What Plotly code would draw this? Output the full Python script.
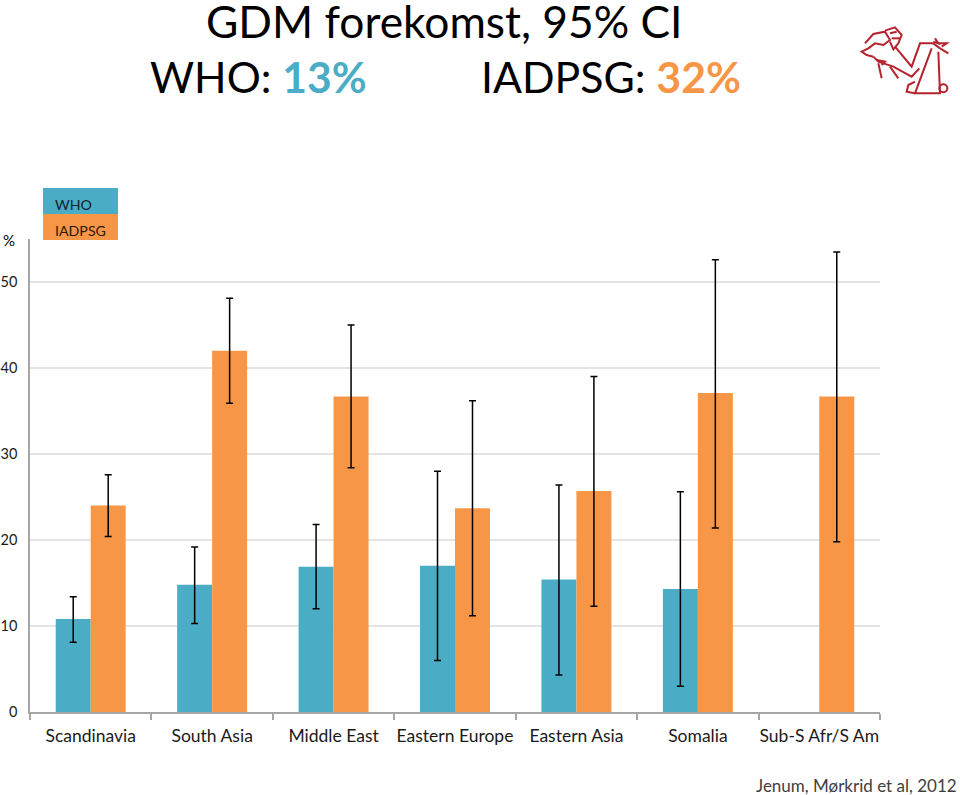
import plotly.graph_objects as go

categories = ["Scandinavia", "South Asia", "Middle East", "Eastern Europe", "Eastern Asia", "Somalia", "Sub-S Afr/S Am"]
who = [10.8, 14.8, 16.9, 17.0, 15.4, 14.3, None]
who_hi = [13.4, 19.2, 21.8, 28.0, 26.4, 25.6, None]
who_lo = [8.1, 10.3, 12.0, 6.0, 4.3, 3.0, None]
iadpsg = [24.0, 42.0, 36.7, 23.7, 25.7, 37.1, 36.7]
iadpsg_hi = [27.6, 48.1, 45.0, 36.2, 39.0, 52.6, 53.5]
iadpsg_lo = [20.4, 35.9, 28.4, 11.2, 12.3, 21.4, 19.8]
y_ticks = [0, 10, 20, 30, 40, 50]

W, H = 960, 795
L, R, T, B = 30, 880, 239, 712
BLUE, ORANGE = "#4BACC6", "#F79646"
RED = "#B5232E"
FONT = "Lato, Carlito, Calibri, sans-serif"


def arrs(vals, hi, lo):
    plus = [None if v is None else round(h - v, 2) for v, h in zip(vals, hi)]
    minus = [None if v is None else round(v - l, 2) for v, l in zip(vals, lo)]
    return dict(type="data", symmetric=False, array=plus, arrayminus=minus,
                color="#000000", thickness=1.5, width=3.5)


fig = go.Figure()
fig.add_bar(name="WHO", x=categories, y=who, marker=dict(color=BLUE, line_width=0),
            error_y=arrs(who, who_hi, who_lo))
fig.add_bar(name="IADPSG", x=categories, y=iadpsg, marker=dict(color=ORANGE, line_width=0),
            error_y=arrs(iadpsg, iadpsg_hi, iadpsg_lo))


def px(x):
    return (x - L) / (R - L)


def py(y):
    return (B - y) / (B - T)


def text(x, y, s, size, anchor="left", color="#000000", **kw):
    fig.add_annotation(xref="paper", yref="paper", x=px(x), y=py(y), text=s, showarrow=False,
                       xanchor=anchor, yanchor="middle", font=dict(family=FONT, size=size, color=color),
                       borderpad=0, **kw)


# legend swatches as filled shapes behind real text
fig.add_shape(type="rect", xref="paper", yref="paper", x0=px(43), x1=px(118), y0=py(214), y1=py(188),
              fillcolor=BLUE, line_width=0)
fig.add_shape(type="rect", xref="paper", yref="paper", x0=px(43), x1=px(118), y0=py(240), y1=py(214),
              fillcolor=ORANGE, line_width=0)

text(444, 20, "GDM forekomst, 95% CI", 44.3, "center")
text(149, 76, f"WHO: <b><span style='color:{BLUE}'>13%</span></b>", 42.6)
text(480, 76, f"IADPSG: <b><span style='color:{ORANGE}'>32%</span></b>", 42.8)
text(2, 240, "%", 15)
text(958, 785, "Jenum, Mørkrid et al, 2012", 17, "right", color="#404040")
text(54, 204, "WHO", 14.2, color="#10222a")
text(54, 230, "IADPSG", 14.2, color="#2a1a0a")

# decorative logo strokes, in the page pixels of the 3x crop (x = 840 + zx/3, y = 10 + zy/3)
LOGO = [
    [(75, 100), (100, 72), (135, 65), (150, 90), (130, 105), (105, 100), (85, 115), (65, 125), (80, 135), (100, 140)],
    [(135, 62), (165, 52), (185, 75), (175, 100), (160, 118), (150, 95)],
    [(150, 70), (170, 65)],
    [(155, 85), (180, 85)],
    [(165, 110), (215, 170), (240, 100), (280, 100), (300, 115)],
    [(100, 140), (115, 155), (160, 170), (215, 200), (238, 175)],
    [(115, 160), (125, 205)],
    [(150, 170), (175, 205)],
    [(110, 150), (135, 155), (125, 165)],
    [(275, 115), (225, 250), (300, 250), (295, 125)],
    [(225, 215), (205, 225), (200, 245), (225, 250)],
    [(280, 95), (295, 100), (285, 85)],
    [(295, 100), (320, 100), (305, 110)],
    [(300, 115), (325, 130)],
]
for stroke in LOGO:
    pts = [(px(840 + a / 3), py(10 + b / 3)) for a, b in stroke]
    d = "M" + " L".join(f"{a:.5f} {b:.5f}" for a, b in pts)
    fig.add_shape(type="path", xref="paper", yref="paper", path=d, line=dict(color=RED, width=2))
fig.add_shape(type="circle", xref="paper", yref="paper", x0=px(840 + 298 / 3), x1=px(840 + 322 / 3),
              y0=py(10 + 247 / 3), y1=py(10 + 223 / 3), line=dict(color=RED, width=2))

fig.update_layout(
    width=W, height=H, barmode="group", bargap=0.424, bargroupgap=0,
    plot_bgcolor="#FFFFFF", paper_bgcolor="#FFFFFF", showlegend=False,
    margin=dict(l=L, r=W - R, t=T, b=H - B, autoexpand=False),
    font=dict(family=FONT, size=15, color="#000000"),
    xaxis=dict(tickson="boundaries", ticks="outside", ticklen=6, tickcolor="#A6A6A6", tickwidth=1.5,
               showline=True, linecolor="#A6A6A6", linewidth=1.5, showgrid=False, tickangle=0,
               ticklabelstandoff=7, automargin=False, tickfont=dict(size=17.5, color="#1a1a1a"), fixedrange=True),
    yaxis=dict(range=[0, 55], tickvals=y_ticks, showline=True, linecolor="#A6A6A6", linewidth=1.5,
               gridcolor="#E4E4E4", gridwidth=1.5, zeroline=False, ticks="", automargin=False,
               ticklabelstandoff=8, tickfont=dict(size=14.5, color="#1a1a1a"), fixedrange=True),
)
fig.write_html("out.html", config={"displayModeBar": False}, post_script="document.body.style.margin='0';")
